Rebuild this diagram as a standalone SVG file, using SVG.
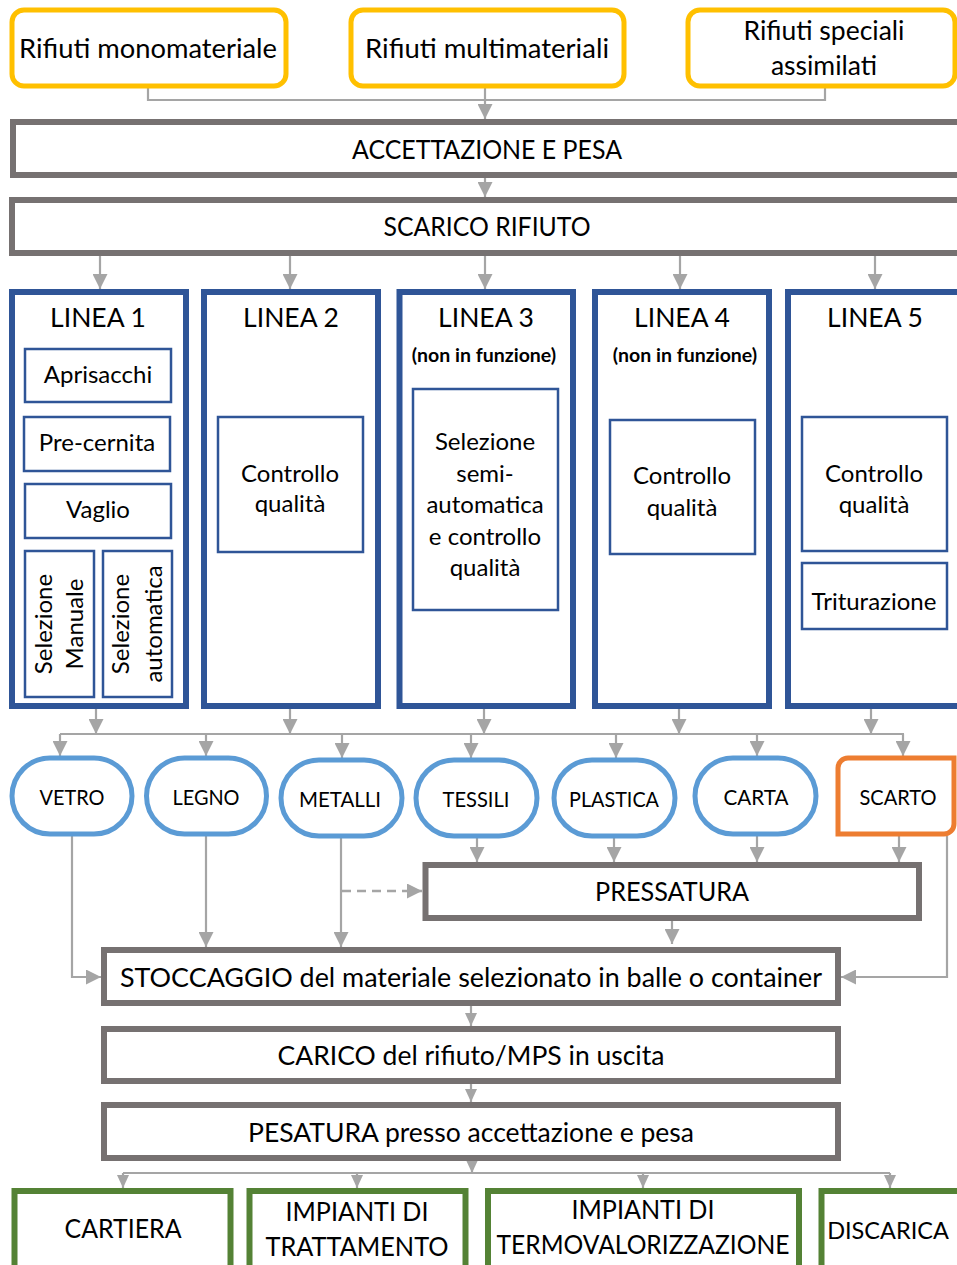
<svg xmlns="http://www.w3.org/2000/svg" width="957" height="1265" viewBox="0 0 957 1265">
<style>
text{font-family:Lato,"Liberation Sans",sans-serif;fill:#000;text-anchor:middle}
.t29{font-size:26.5px}
.t26{font-size:24px}
.t23{font-size:21.5px}
.tb{font-size:19.5px;font-weight:bold}
.src{fill:#fff;stroke:#FFC000;stroke-width:5}
.proc{fill:#fff;stroke:#767171;stroke-width:6}
.line{fill:#fff;stroke:#2F5597;stroke-width:6}
.sub{fill:#fff;stroke:#2F5597;stroke-width:2.5}
.mat{fill:#fff;stroke:#5B9BD5;stroke-width:5}
.scarto{fill:#fff;stroke:#ED7D31;stroke-width:5}
.dest{fill:#fff;stroke:#548235;stroke-width:6}
.c{fill:none;stroke:#A5A5A5;stroke-width:2.2}
.ca{fill:none;stroke:#A5A5A5;stroke-width:2.2;marker-end:url(#ah)}
.cs{fill:none;stroke:#A5A5A5;stroke-width:2.2;marker-end:url(#ahs)}
.cd{fill:none;stroke:#A5A5A5;stroke-width:2.5;stroke-dasharray:9,6;marker-end:url(#ah)}
</style>
<defs>
<marker id="ah" markerUnits="userSpaceOnUse" markerWidth="15" markerHeight="15" viewBox="0 0 15 15" refX="15" refY="7.5" orient="auto"><path d="M0,0 L15,7.5 L0,15 z" fill="#A5A5A5"/></marker>
<marker id="ahs" markerUnits="userSpaceOnUse" markerWidth="13" markerHeight="12" viewBox="0 0 13 12" refX="13" refY="6" orient="auto"><path d="M0,0 L13,6 L0,12 z" fill="#A5A5A5"/></marker>
</defs>

<g id="connectors">
<polyline class="c" points="148,88 148,100 825,100 825,88"/>
<line class="ca" x1="485" y1="88" x2="485" y2="119"/>
<line class="ca" x1="485" y1="178" x2="485" y2="197"/>
<line class="ca" x1="100" y1="256" x2="100" y2="289"/>
<line class="ca" x1="290" y1="256" x2="290" y2="289"/>
<line class="ca" x1="485" y1="256" x2="485" y2="289"/>
<line class="ca" x1="680" y1="256" x2="680" y2="289"/>
<line class="ca" x1="875" y1="256" x2="875" y2="289"/>
<line class="ca" x1="97" y1="403" x2="97" y2="416"/>
<line class="ca" x1="96" y1="471" x2="96" y2="484"/>
<line class="ca" x1="72" y1="538" x2="72" y2="551"/>
<line class="ca" x1="129" y1="538" x2="129" y2="551"/>
<line class="ca" x1="96" y1="709" x2="96" y2="734"/>
<line class="ca" x1="290" y1="709" x2="290" y2="734"/>
<line class="ca" x1="484" y1="709" x2="484" y2="734"/>
<line class="ca" x1="679" y1="709" x2="679" y2="734"/>
<line class="ca" x1="871" y1="709" x2="871" y2="734"/>
<line class="c" x1="60" y1="734" x2="904" y2="734"/>
<line class="ca" x1="60" y1="734" x2="60" y2="756"/>
<line class="ca" x1="206" y1="734" x2="206" y2="756"/>
<line class="ca" x1="342" y1="734" x2="342" y2="758"/>
<line class="ca" x1="471" y1="734" x2="471" y2="758"/>
<line class="ca" x1="616" y1="734" x2="616" y2="758"/>
<line class="ca" x1="757" y1="734" x2="757" y2="756"/>
<line class="ca" x1="903" y1="734" x2="903" y2="756"/>
<line class="ca" x1="477" y1="838" x2="477" y2="862"/>
<line class="ca" x1="614" y1="838" x2="614" y2="862"/>
<line class="ca" x1="757" y1="836" x2="757" y2="862"/>
<line class="ca" x1="899" y1="836" x2="899" y2="862"/>
<line class="cd" x1="342" y1="891" x2="422" y2="891"/>
<polyline class="ca" points="72,836 72,977 101,977"/>
<line class="ca" x1="206" y1="836" x2="206" y2="947"/>
<line class="ca" x1="341" y1="838" x2="341" y2="947"/>
<line class="ca" x1="672" y1="921" x2="672" y2="944"/>
<polyline class="ca" points="947,836 947,977 841,977"/>
<line class="cs" x1="471" y1="1006" x2="471" y2="1026"/>
<line class="cs" x1="471" y1="1084" x2="471" y2="1102"/>
<line class="cs" x1="472" y1="1161" x2="472" y2="1173"/>
<line class="c" x1="123" y1="1173" x2="890" y2="1173"/>
<line class="cs" x1="123" y1="1173" x2="123" y2="1188"/>
<line class="cs" x1="357" y1="1173" x2="357" y2="1188"/>
<line class="cs" x1="643" y1="1173" x2="643" y2="1188"/>
<line class="cs" x1="890" y1="1173" x2="890" y2="1188"/>
</g>

<g id="src1"><rect class="src" x="12" y="10" width="274" height="76" rx="12"/><text class="t29" x="148" y="58" textLength="258" lengthAdjust="spacingAndGlyphs">Rifiuti monomateriale</text></g>
<g id="src2"><rect class="src" x="351" y="10" width="273" height="76" rx="12"/><text class="t29" x="487" y="58" textLength="244" lengthAdjust="spacingAndGlyphs">Rifiuti multimateriali</text></g>
<g id="src3"><rect class="src" x="688" y="10" width="267" height="76" rx="12"/><text class="t29" x="824" y="40">Rifiuti speciali</text><text class="t29" x="824" y="75">assimilati</text></g>

<g id="accettazione"><rect class="proc" x="13" y="122" width="960" height="53"/><text class="t29" x="487" y="159" textLength="270" lengthAdjust="spacingAndGlyphs">ACCETTAZIONE E PESA</text></g>
<g id="scarico"><rect class="proc" x="12" y="200" width="960" height="53"/><text class="t29" x="487" y="236" textLength="207" lengthAdjust="spacingAndGlyphs">SCARICO RIFIUTO</text></g>

<g id="linea1">
<rect class="line" x="12" y="292" width="174" height="414"/>
<text class="t29" x="98" y="327">LINEA 1</text>
<g id="aprisacchi"><rect class="sub" x="25" y="349" width="146" height="53"/><text class="t26" x="98" y="383">Aprisacchi</text></g>
<g id="precernita"><rect class="sub" x="24" y="417" width="146" height="54"/><text class="t26" x="97" y="451">Pre-cernita</text></g>
<g id="vaglio"><rect class="sub" x="25" y="484" width="146" height="54"/><text class="t26" x="98" y="518">Vaglio</text></g>
<g id="selman"><rect class="sub" x="25" y="551" width="69" height="146"/><text class="t26" transform="translate(52,624) rotate(-90)">Selezione</text><text class="t26" transform="translate(83,624) rotate(-90)">Manuale</text></g>
<g id="selauto"><rect class="sub" x="103" y="551" width="69" height="146"/><text class="t26" transform="translate(129,624) rotate(-90)">Selezione</text><text class="t26" transform="translate(162,624) rotate(-90)">automatica</text></g>
</g>

<g id="linea2">
<rect class="line" x="204" y="292" width="174" height="414"/>
<text class="t29" x="291" y="327">LINEA 2</text>
<g id="cq2"><rect class="sub" x="218" y="417" width="145" height="135"/><text class="t26" x="290" y="482">Controllo</text><text class="t26" x="290" y="512">qualità</text></g>
</g>

<g id="linea3">
<rect class="line" x="399.5" y="292" width="173.5" height="414"/>
<text class="t29" x="486" y="327">LINEA 3</text>
<text class="tb" x="484" y="362">(non in funzione)</text>
<g id="sel3"><rect class="sub" x="413" y="389" width="145" height="221"/>
<text class="t26" x="485" y="450">Selezione</text><text class="t26" x="485" y="482">semi-</text><text class="t26" x="485" y="513">automatica</text><text class="t26" x="485" y="545">e controllo</text><text class="t26" x="485" y="576">qualità</text></g>
</g>

<g id="linea4">
<rect class="line" x="595" y="292" width="174" height="414"/>
<text class="t29" x="682" y="327">LINEA 4</text>
<text class="tb" x="685" y="362">(non in funzione)</text>
<g id="cq4"><rect class="sub" x="610" y="420" width="145" height="134"/><text class="t26" x="682" y="484">Controllo</text><text class="t26" x="682" y="516">qualità</text></g>
</g>

<g id="linea5">
<rect class="line" x="788" y="292" width="174" height="414"/>
<text class="t29" x="875" y="327">LINEA 5</text>
<g id="cq5"><rect class="sub" x="802" y="417" width="145" height="134"/><text class="t26" x="874" y="482">Controllo</text><text class="t26" x="874" y="513">qualità</text></g>
<g id="trit"><rect class="sub" x="802" y="563" width="145" height="66"/><text class="t26" x="874" y="610">Triturazione</text></g>
</g>

<g id="vetro"><rect class="mat" x="12" y="758" width="120" height="76" rx="38"/><text class="t23" x="72" y="805" textLength="65" lengthAdjust="spacingAndGlyphs">VETRO</text></g>
<g id="legno"><rect class="mat" x="146.5" y="758" width="120" height="76" rx="38"/><text class="t23" x="206" y="805" textLength="67" lengthAdjust="spacingAndGlyphs">LEGNO</text></g>
<g id="metalli"><rect class="mat" x="281" y="760" width="121" height="76" rx="38"/><text class="t23" x="340" y="807" textLength="82" lengthAdjust="spacingAndGlyphs">METALLI</text></g>
<g id="tessili"><rect class="mat" x="416" y="760" width="121" height="76" rx="38"/><text class="t23" x="476" y="807" textLength="67" lengthAdjust="spacingAndGlyphs">TESSILI</text></g>
<g id="plastica"><rect class="mat" x="554" y="760" width="121" height="76" rx="38"/><text class="t23" x="614" y="807" textLength="90" lengthAdjust="spacingAndGlyphs">PLASTICA</text></g>
<g id="carta"><rect class="mat" x="695" y="758" width="121" height="76" rx="38"/><text class="t23" x="756" y="805" textLength="65" lengthAdjust="spacingAndGlyphs">CARTA</text></g>
<g id="scarto"><path class="scarto" d="M848,758 H954 V824 A10,10 0 0 1 944,834 H838 V768 A10,10 0 0 1 848,758 Z"/><text class="t23" x="898" y="805" textLength="77" lengthAdjust="spacingAndGlyphs">SCARTO</text></g>

<g id="pressatura"><rect class="proc" x="425.5" y="865" width="493.5" height="53"/><text class="t29" x="672" y="901" textLength="154" lengthAdjust="spacingAndGlyphs">PRESSATURA</text></g>
<g id="stoccaggio"><rect class="proc" x="104" y="950" width="734" height="53"/><text class="t29" x="471" y="987" textLength="702" lengthAdjust="spacingAndGlyphs">STOCCAGGIO del materiale selezionato in balle o container</text></g>
<g id="carico"><rect class="proc" x="104" y="1029" width="734" height="52"/><text class="t29" x="471" y="1065">CARICO del rifiuto/MPS in uscita</text></g>
<g id="pesatura"><rect class="proc" x="104" y="1105" width="734" height="53"/><text class="t29" x="471" y="1142">PESATURA presso accettazione e pesa</text></g>

<g id="cartiera"><rect class="dest" x="14.5" y="1191" width="216" height="90"/><text class="t29" x="123" y="1238" textLength="117" lengthAdjust="spacingAndGlyphs">CARTIERA</text></g>
<g id="trattamento"><rect class="dest" x="249.5" y="1191" width="216" height="90"/><text class="t29" x="357" y="1221" textLength="143" lengthAdjust="spacingAndGlyphs">IMPIANTI DI</text><text class="t29" x="357" y="1256" textLength="183" lengthAdjust="spacingAndGlyphs">TRATTAMENTO</text></g>
<g id="termo"><rect class="dest" x="488" y="1191" width="311" height="90"/><text class="t29" x="643" y="1219" textLength="143" lengthAdjust="spacingAndGlyphs">IMPIANTI DI</text><text class="t29" x="643" y="1254" textLength="293" lengthAdjust="spacingAndGlyphs">TERMOVALORIZZAZIONE</text></g>
<g id="discarica"><rect class="dest" x="821.5" y="1191" width="150" height="90"/><text x="888" y="1239" style="font-size:23.5px">DISCARICA</text></g>
</svg>
